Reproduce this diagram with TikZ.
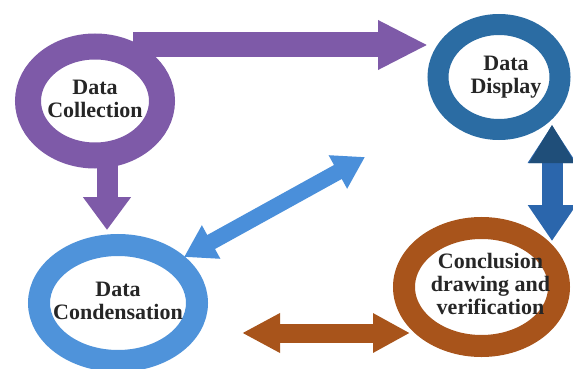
\documentclass[tikz,border=0pt]{standalone}
\usepackage{fontspec}
\setmainfont{Liberation Serif}
\usetikzlibrary{shapes.geometric,arrows.meta,calc}
\definecolor{purp}{HTML}{7E5AA8}
\definecolor{dispblue}{HTML}{2B6CA3}
\definecolor{condblue}{HTML}{4F93DA}
\definecolor{navy}{HTML}{1F4E79}
\definecolor{midblue}{HTML}{2B66AC}
\definecolor{diagblue}{HTML}{4A8FDA}
\definecolor{brown}{HTML}{A8541B}
\definecolor{txt}{HTML}{262626}
\newcommand\ringtext[1]{\makebox[0pt]{\begin{tabular}{@{}c@{}}#1\end{tabular}}}
\tikzset{
  ring/.style={ellipse, draw, fill=white, inner sep=0pt, outer sep=0pt,
    text=txt, font=\fontsize{22}{23}\selectfont\bfseries},
  fatarrow/.style={line cap=butt}
}
\begin{document}
\begin{tikzpicture}[x=1pt,y=-1pt]
\useasboundingbox (0,0) rectangle (573,369);
% rings
\node[ring, draw=purp, line width=26pt, minimum width=134pt, minimum height=109pt] (coll) at (95,101) {\ringtext{Data\\Collection}};
\node[ring, draw=dispblue, line width=21pt, minimum width=122pt, minimum height=105pt] (disp) at (499,77) {\ringtext{\hspace*{14pt}Data\\\hspace*{14pt}Display}};
\node[ring, draw=brown, line width=22pt, minimum width=155pt, minimum height=118pt] (concl) at (481.5,287) {\ringtext{\hspace*{18pt}Conclusion\\\hspace*{18pt}drawing and\\\hspace*{18pt}verification}};
\node[ring, draw=condblue, line width=22pt, minimum width=158pt, minimum height=116pt] (cond) at (118,303) {\ringtext{Data\\Condensation}};
% connector end points
\coordinate (a1s) at (133,45);
\coordinate (a1e) at (428,45);
\coordinate (a2s) at (107,158);
\coordinate (a2e) at (107,230);
\coordinate (a3s) at (552,125);
\coordinate (a3e) at (552,241);
\coordinate (a4s) at (184,257);
\coordinate (a4e) at (365,157);
\coordinate (a5s) at (242,333);
\coordinate (a5e) at (410,333);
% arrows
\draw[fatarrow, purp, line width=25pt, -{Triangle[width=46pt,length=50pt]}] (a1s) -- (a1e);
\draw[fatarrow, purp, line width=21pt, -{Triangle[width=46pt,length=33pt]}] (a2s) -- (a2e);
\draw[fatarrow, midblue, line width=21pt, {Triangle[width=46pt,length=38pt]}-{Triangle[width=46pt,length=36pt]}] (a3s) -- (a3e);
\fill[navy] (a3s) -- ($(a3s)+(23,38)$) -- ($(a3s)+(-23,38)$) -- cycle;
\draw[fatarrow, diagblue, line width=16pt, {Triangle[width=36pt,length=31pt]}-{Triangle[width=36pt,length=31pt]}] (a4s) -- (a4e);
\draw[fatarrow, brown, line width=19pt, {Triangle[width=37pt,length=38pt]}-{Triangle[width=37pt,length=37pt]}] (a5s) -- (a5e);
\end{tikzpicture}
\end{document}
